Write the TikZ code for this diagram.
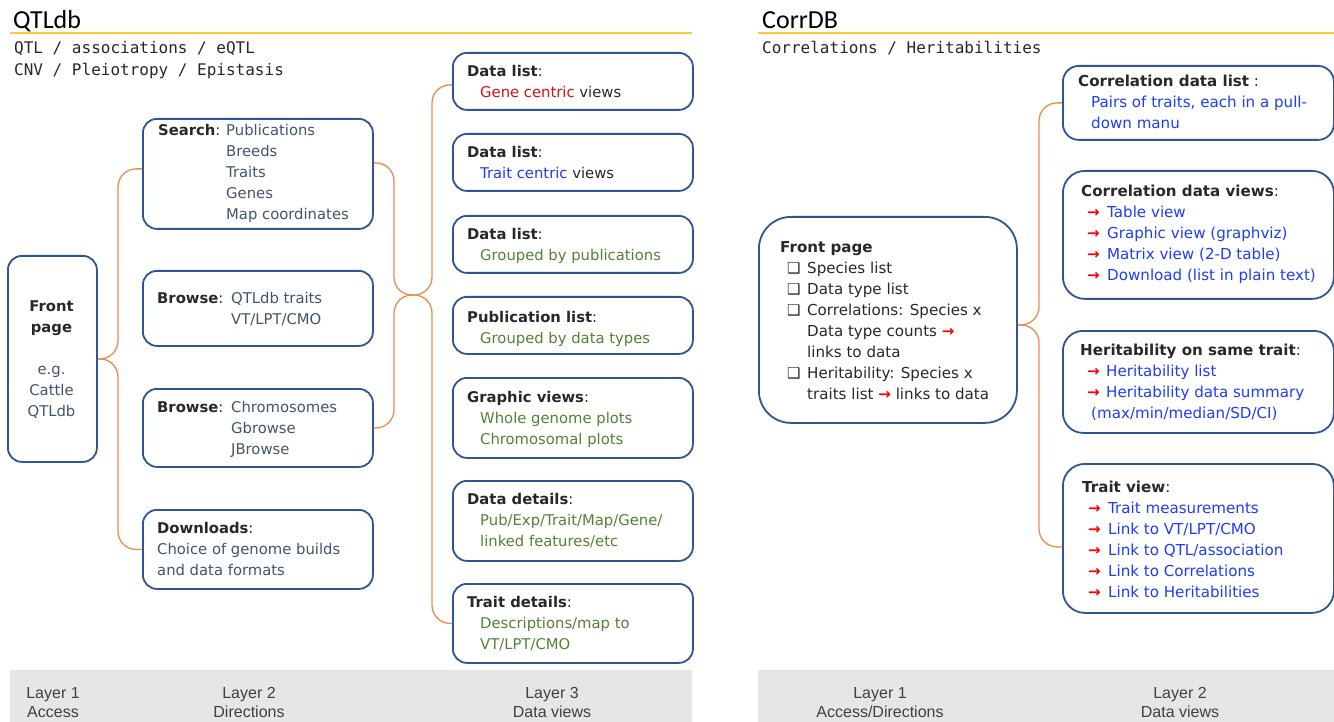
\documentclass[tikz,border=0pt]{standalone}
\usepackage{fontspec}
\setmainfont{DejaVu Sans}
\newfontfamily\titlefont{Carlito}
\newfontfamily\submono{DejaVu Sans Mono}
\newfontfamily\layerfont{Liberation Sans}
\usetikzlibrary{calc}
\definecolor{bblue}{RGB}{47,85,151}
\definecolor{corange}{RGB}{236,140,80}
\definecolor{slate}{RGB}{68,84,106}
\definecolor{dgreen}{RGB}{84,130,53}
\definecolor{lblue}{RGB}{30,60,255}
\definecolor{gred}{RGB}{210,20,20}
\definecolor{ared}{RGB}{255,0,0}
\definecolor{ygold}{RGB}{255,200,60}
\definecolor{band}{RGB}{231,230,230}
\definecolor{ltext}{RGB}{64,64,64}
\definecolor{dtext}{RGB}{40,40,40}
\newcommand\bxfont{\fontsize{14.8}{21}\selectfont}
\newcommand\bxfontR{\fontsize{15.1}{21}\selectfont}
\newcommand\rarr{{\color{ared}\bfseries →}}
\newcommand\chk{{\fontsize{15}{21}\selectfont\bfseries ❑}}
\tikzset{
  box/.style={draw=bblue, line width=1.8pt, rounded corners=14pt, anchor=north west, inner sep=0pt},
  txt/.style={anchor=base west, inner sep=0pt, font=\bxfont, text=dtext},
  txtr/.style={anchor=base west, inner sep=0pt, font=\bxfontR, text=dtext},
  txtc/.style={anchor=base, inner sep=0pt, font=\bxfont, text=dtext},
  conn/.style={draw=corange, line width=1.3pt, rounded corners=18pt},
  ttl/.style={anchor=base west, inner sep=0pt, font=\titlefont\fontsize{26}{30}\selectfont},
  sub/.style={anchor=base west, inner sep=0pt, font=\submono\fontsize{16}{22}\selectfont, text=dtext},
  lay/.style={anchor=base, inner sep=0pt, font=\layerfont\fontsize{16}{19}\selectfont, text=ltext},
  gline/.style={draw=ygold, line width=1.5pt}
}
\begin{document}
\begin{tikzpicture}[x=1pt,y=-1pt]
\useasboundingbox (0,0) rectangle (1334,722);
\fill[white] (0,0) rectangle (1334,722);

% ---------------- titles ----------------
\node[ttl] (t1) at (13,29) {QTLdb};
\node[ttl] (t2) at (762,29) {CorrDB};
\coordinate (y1a) at (10,33); \coordinate (y1b) at (692,33);
\coordinate (y2a) at (758,33); \coordinate (y2b) at (1334,33);
\draw[gline] (y1a) -- (y1b);
\draw[gline] (y2a) -- (y2b);
\node[sub] (s1) at (14,54) {QTL / associations / eQTL};
\node[sub] (s2) at (14,76) {CNV / Pleiotropy / Epistasis};
\node[sub] (s3) at (762,54) {Correlations / Heritabilities};

% ---------------- bottom bands ----------------
\fill[band] (10,670) rectangle (692,722);
\fill[band] (758,670) rectangle (1334,722);
\node[lay] (l1) at (53,698) {\begin{tabular}[t]{@{}c@{}}Layer 1\\Access\end{tabular}};
\node[lay] (l2) at (249,698) {\begin{tabular}[t]{@{}c@{}}Layer 2\\Directions\end{tabular}};
\node[lay] (l3) at (552,698) {\begin{tabular}[t]{@{}c@{}}Layer 3\\Data views\end{tabular}};
\node[lay] (r1) at (880,698) {\begin{tabular}[t]{@{}c@{}}Layer 1\\Access/Directions\end{tabular}};
\node[lay] (r2) at (1180,698) {\begin{tabular}[t]{@{}c@{}}Layer 2\\Data views\end{tabular}};

% ---------------- QTLdb boxes ----------------
\node[box, minimum width=89, minimum height=206] (fp) at (7,255) {};
\node[txtc] (fpT) at (51.5,311) {\begin{tabular}[t]{@{}c@{}}\textbf{Front}\\\textbf{page}\\[22pt]
  \color{slate}e.g.\\\color{slate}Cattle\\\color{slate}QTLdb\end{tabular}};

\node[box, minimum width=230, minimum height=110] (search) at (142,118) {};
\node[txt] (searchT) at (158,136) {\begin{tabular}[t]{@{}l@{}l@{}}
  \makebox[68pt][l]{\textbf{Search}:} & \color{slate}Publications\\
  & \color{slate}Breeds\\ & \color{slate}Traits\\ & \color{slate}Genes\\ & \color{slate}Map coordinates\end{tabular}};

\node[box, minimum width=230, minimum height=75] (bq) at (142,270) {};
\node[txt] (bqT) at (157,303) {\begin{tabular}[t]{@{}l@{}l@{}}
  \makebox[74pt][l]{\textbf{Browse}:} & \color{slate}QTLdb traits\\
  & \color{slate}VT/LPT/CMO\end{tabular}};

\node[box, minimum width=230, minimum height=78] (bc) at (142,388) {};
\node[txt] (bcT) at (157,412) {\begin{tabular}[t]{@{}l@{}l@{}}
  \makebox[74pt][l]{\textbf{Browse}:} & \color{slate}Chromosomes\\
  & \color{slate}Gbrowse\\ & \color{slate}JBrowse\end{tabular}};

\node[box, minimum width=230, minimum height=79] (dlb) at (142,509) {};
\node[txt] (dlbT) at (157,533) {\begin{tabular}[t]{@{}l@{}}
  \textbf{Downloads}:\\ \color{slate}Choice of genome builds\\ \color{slate}and data formats\end{tabular}};

% layer 3
\node[box, minimum width=240, minimum height=57] (dl1) at (452,52) {};
\node[txt] (dl1T) at (467,77) {\begin{tabular}[t]{@{}l@{}}
  \textbf{Data list}:\\ \hspace{13pt}{\color{gred}Gene centric} views\end{tabular}};

\node[box, minimum width=240, minimum height=57] (dl2) at (452,133) {};
\node[txt] (dl2T) at (467,158) {\begin{tabular}[t]{@{}l@{}}
  \textbf{Data list}:\\ \hspace{13pt}{\color{lblue}Trait centric} views\end{tabular}};

\node[box, minimum width=240, minimum height=57] (dl3) at (452,215) {};
\node[txt] (dl3T) at (467,240) {\begin{tabular}[t]{@{}l@{}}
  \textbf{Data list}:\\ \hspace{13pt}\color{dgreen}Grouped by publications\end{tabular}};

\node[box, minimum width=240, minimum height=57] (pl) at (452,296) {};
\node[txt] (plT) at (467,322) {\begin{tabular}[t]{@{}l@{}}
  \textbf{Publication list}:\\ \hspace{13pt}\color{dgreen}Grouped by data types\end{tabular}};

\node[box, minimum width=240, minimum height=80] (gv) at (452,377) {};
\node[txt] (gvT) at (467,402) {\begin{tabular}[t]{@{}l@{}}
  \textbf{Graphic views}:\\ \hspace{13pt}\color{dgreen}Whole genome plots\\ \hspace{13pt}\color{dgreen}Chromosomal plots\end{tabular}};

\node[box, minimum width=240, minimum height=80] (dd) at (452,480) {};
\node[txt] (ddT) at (467,504) {\begin{tabular}[t]{@{}l@{}}
  \textbf{Data details}:\\ \hspace{13pt}\color{dgreen}Pub/Exp/Trait/Map/Gene/\\ \hspace{13pt}\color{dgreen}linked features/etc\end{tabular}};

\node[box, minimum width=240, minimum height=79] (td) at (452,583) {};
\node[txt] (tdT) at (467,607) {\begin{tabular}[t]{@{}l@{}}
  \textbf{Trait details}:\\ \hspace{13pt}\color{dgreen}Descriptions/map to\\ \hspace{13pt}\color{dgreen}VT/LPT/CMO\end{tabular}};

% ---------------- QTLdb connectors ----------------
\coordinate (sp1) at (118,0);
\coordinate (sp2) at (394,0);
\coordinate (sp3) at (432,0);
\coordinate (mid) at (412,295);
\coordinate (sW) at ([yshift=5pt]search.west);
\coordinate (sE) at ([yshift=11pt]search.east);
\coordinate (d1W) at ([yshift=-3.5pt]dl1.west);
\draw[conn] (fp.east) -- (fp.east -| sp1) -- (sp1 |- sW) -- (sW);
\draw[conn] (fp.east) -- (fp.east -| sp1) -- (sp1 |- dlb.west) -- (dlb.west);
\draw[conn] (sE) -- (sE -| sp2) -- (sp2 |- mid) -- (mid);
\draw[conn] (bc.east) -- (bc.east -| sp2) -- (sp2 |- mid) -- (mid);
\draw[conn] (d1W) -- (d1W -| sp3) -- (sp3 |- mid) -- (mid);
\draw[conn] (td.west) -- (td.west -| sp3) -- (sp3 |- mid) -- (mid);

% ---------------- CorrDB boxes ----------------
\node[box, rounded corners=32pt, minimum width=258, minimum height=206] (fp2) at (758,216) {};
\node[txtr] (fp2T) at (780,253) {\begin{tabular}[t]{@{}l@{}l@{}}
  \multicolumn{2}{@{}l@{}}{\textbf{Front page}}\\
  \hspace{7pt}\makebox[20pt][l]{\chk} & Species list\\
  \hspace{7pt}\makebox[20pt][l]{\chk} & Data type list\\
  \hspace{7pt}\makebox[20pt][l]{\chk} & Correlations: Species x\\
  & Data type counts \rarr\\
  & links to data\\
  \hspace{7pt}\makebox[20pt][l]{\chk} & Heritability: Species x\\
  & traits list \rarr{} links to data\end{tabular}};

\node[box, rounded corners=16pt, minimum width=271, minimum height=74] (cdl) at (1062,65) {};
\node[txtr] (cdlT) at (1078,87) {\begin{tabular}[t]{@{}l@{}}
  \textbf{Correlation data list} :\\
  \hspace{13pt}\color{lblue}Pairs of traits, each in a pull-\\
  \hspace{13pt}\color{lblue}down manu\end{tabular}};

\node[box, rounded corners=22pt, minimum width=271, minimum height=128] (cdv) at (1062,170) {};
\node[txtr] (cdvT) at (1081,197) {\begin{tabular}[t]{@{}l@{}}
  \textbf{Correlation data views}:\\
  \hspace{6pt}\makebox[20pt][l]{\rarr}\color{lblue}Table view\\
  \hspace{6pt}\makebox[20pt][l]{\rarr}\color{lblue}Graphic view (graphviz)\\
  \hspace{6pt}\makebox[20pt][l]{\rarr}\color{lblue}Matrix view (2-D table)\\
  \hspace{6pt}\makebox[20pt][l]{\rarr}\color{lblue}Download (list in plain text)\end{tabular}};

\node[box, rounded corners=20pt, minimum width=271, minimum height=102] (her) at (1062,330) {};
\node[txtr] (herT) at (1080,355) {\begin{tabular}[t]{@{}l@{}}
  \textbf{Heritability on same trait}:\\
  \hspace{7pt}\makebox[19pt][l]{\rarr}\color{lblue}Heritability list\\
  \hspace{7pt}\makebox[19pt][l]{\rarr}\color{lblue}Heritability data summary\\
  \hspace{11pt}\color{lblue}(max/min/median/SD/CI)\end{tabular}};

\node[box, rounded corners=22pt, minimum width=271, minimum height=149] (tv) at (1062,463) {};
\node[txtr] (tvT) at (1082,492) {\begin{tabular}[t]{@{}l@{}}
  \textbf{Trait view}:\\
  \hspace{6pt}\makebox[20pt][l]{\rarr}\color{lblue}Trait measurements\\
  \hspace{6pt}\makebox[20pt][l]{\rarr}\color{lblue}Link to VT/LPT/CMO\\
  \hspace{6pt}\makebox[20pt][l]{\rarr}\color{lblue}Link to QTL/association\\
  \hspace{6pt}\makebox[20pt][l]{\rarr}\color{lblue}Link to Correlations\\
  \hspace{6pt}\makebox[20pt][l]{\rarr}\color{lblue}Link to Heritabilities\end{tabular}};

% ---------------- CorrDB connectors ----------------
\coordinate (sp4) at (1039,0);
\coordinate (f2E) at ([yshift=-5pt]fp2.east);
\coordinate (tvW) at ([yshift=-8.5pt]tv.west);
\draw[conn] (f2E) -- (f2E -| sp4) -- (sp4 |- cdl.west) -- (cdl.west);
\draw[conn] (f2E) -- (f2E -| sp4) -- (sp4 |- tvW) -- (tvW);
\end{tikzpicture}
\end{document}
